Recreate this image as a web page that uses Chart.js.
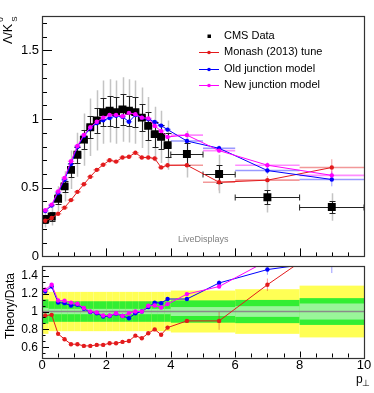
<!DOCTYPE html>
<html>
<head>
<meta charset="utf-8">
<script src="https://cdn.jsdelivr.net/npm/chart.js@4.4.0/dist/chart.umd.min.js"></script>
<style>
    html, body { margin: 0; padding: 0; background: #fff; }
    #wrap { position: relative; width: 374px; height: 393px; }
    canvas { position: absolute; left: 0; }
    #main { top: 0; }
    #ratio { top: 262px; }
</style>
</head>
<body>
<div id="wrap">
    <canvas id="main" width="374" height="262"></canvas>
    <canvas id="ratio" width="374" height="131"></canvas>
</div>
<script>
// pT bins (GeV)
const ptCenters = [0.1, 0.3, 0.5, 0.7, 0.9, 1.1, 1.3, 1.5, 1.7, 1.9, 2.1, 2.3, 2.5, 2.7, 2.9, 3.1, 3.3, 3.5, 3.7, 3.9, 4.5, 5.5, 7, 9];
const binEdges = [0, 0.2, 0.4, 0.6, 0.8, 1.0, 1.2, 1.4, 1.6, 1.8, 2.0, 2.2, 2.4, 2.6, 2.8, 3.0, 3.2, 3.4, 3.6, 3.8, 4.0, 5, 6, 8, 10];

// CMS data + errors (black = stat, grey = total)
const cmsData  = [0.27, 0.29, 0.42, 0.51, 0.63, 0.74, 0.85, 0.94, 0.99, 1.05, 1.06, 1.05, 1.07, 1.06, 1.05, 1.01, 0.95, 0.89, 0.87, 0.81, 0.745, 0.60, 0.43, 0.36];
const cmsStat  = [0.03, 0.03, 0.035, 0.04, 0.05, 0.06, 0.07, 0.08, 0.09, 0.10, 0.11, 0.11, 0.11, 0.11, 0.11, 0.10, 0.10, 0.09, 0.09, 0.085, 0.08, 0.065, 0.05, 0.045];
const cmsTotal = [0.06, 0.065, 0.09, 0.11, 0.14, 0.16, 0.19, 0.21, 0.22, 0.23, 0.23, 0.23, 0.235, 0.23, 0.23, 0.22, 0.21, 0.20, 0.19, 0.18, 0.17, 0.14, 0.11, 0.10];

// generator predictions
const monash    = [0.26, 0.28, 0.31, 0.355, 0.41, 0.47, 0.525, 0.58, 0.63, 0.667, 0.70, 0.69, 0.72, 0.725, 0.755, 0.72, 0.72, 0.713, 0.648, 0.663, 0.664, 0.54, 0.555, 0.647];
const monashErr = [0.006, 0.006, 0.007, 0.007, 0.008, 0.008, 0.009, 0.009, 0.01, 0.01, 0.01, 0.011, 0.011, 0.012, 0.012, 0.013, 0.014, 0.015, 0.016, 0.017, 0.012, 0.06, 0.03, 0.06];
const oldJunction = [0.331, 0.371, 0.462, 0.558, 0.672, 0.796, 0.876, 0.933, 0.97, 0.991, 1.007, 1.024, 1.017, 0.98, 1.029, 1.01, 0.998, 0.979, 0.952, 0.923, 0.84, 0.787, 0.625, 0.56];
const oldErr      = [0.006, 0.006, 0.006, 0.007, 0.007, 0.008, 0.008, 0.009, 0.009, 0.01, 0.01, 0.01, 0.011, 0.011, 0.012, 0.012, 0.013, 0.014, 0.015, 0.016, 0.012, 0.02, 0.025, 0.05];
const newJunction = [0.336, 0.377, 0.472, 0.571, 0.693, 0.804, 0.884, 0.94, 0.98, 1.01, 1.03, 1.03, 1.02, 1.045, 1.035, 1.01, 1.005, 0.95, 0.912, 0.87, 0.883, 0.77, 0.664, 0.59];
const newErr      = [0.006, 0.006, 0.006, 0.007, 0.007, 0.008, 0.008, 0.009, 0.009, 0.01, 0.01, 0.01, 0.011, 0.011, 0.012, 0.012, 0.013, 0.014, 0.015, 0.016, 0.012, 0.015, 0.02, 0.035];

// theory / data
const ratioMonash = [0.955, 0.963, 0.75, 0.69, 0.634, 0.634, 0.615, 0.615, 0.626, 0.626, 0.645, 0.645, 0.66, 0.67, 0.73, 0.70, 0.757, 0.80, 0.74, 0.82, 0.895, 0.895, 1.30, 1.80];
const ratioOld    = [1.225, 1.28, 1.10, 1.094, 1.067, 1.075, 1.03, 0.993, 0.98, 0.944, 0.95, 0.975, 0.95, 0.925, 0.98, 1.0, 1.05, 1.10, 1.094, 1.14, 1.14, 1.32, 1.47, 1.57];
const ratioNew    = [1.244, 1.30, 1.124, 1.12, 1.10, 1.087, 1.04, 1.0, 0.99, 0.955, 0.955, 0.98, 0.95, 0.98, 1.0, 1.0, 1.064, 1.067, 1.045, 1.083, 1.195, 1.28, 1.57, 1.64];

// relative uncertainty bands in the ratio panel
const bandTotal = [0.25, 0.22, 0.22, 0.22, 0.22, 0.22, 0.22, 0.22, 0.22, 0.22, 0.22, 0.22, 0.22, 0.22, 0.22, 0.22, 0.22, 0.22, 0.22, 0.22, 0.235, 0.235, 0.25, 0.29];
const bandStat  = [0.135, 0.115, 0.115, 0.115, 0.115, 0.115, 0.115, 0.115, 0.115, 0.115, 0.115, 0.115, 0.115, 0.115, 0.115, 0.115, 0.115, 0.115, 0.115, 0.115, 0.125, 0.125, 0.13, 0.15];
const bandInner = [0.04, 0.03, 0.03, 0.03, 0.03, 0.03, 0.03, 0.03, 0.03, 0.03, 0.03, 0.03, 0.03, 0.03, 0.03, 0.03, 0.03, 0.03, 0.03, 0.03, 0.05, 0.05, 0.06, 0.09];

// tick labels
const mainYTicks = [0, 0.5, 1, 1.5];
const ratioYTicks = [0.6, 0.8, 1, 1.2, 1.4];
const xTicks = [0, 2, 4, 6, 8, 10];

const FONT = '"Liberation Sans", Arial, Helvetica, sans-serif';
const RED = '#e31a1c', BLUE = '#0000ff', MAGENTA = '#ff00ff';
const LIGHT = { [RED]: 'rgba(227,26,28,0.45)', [BLUE]: 'rgba(0,0,255,0.4)', [MAGENTA]: 'rgba(255,0,255,0.45)' };

const pts = (ys) => ptCenters.map((x, i) => ({ x: x, y: ys[i] }));
const px = (s, v) => s.getPixelForValue(v);

function line(ctx, x1, y1, x2, y2) {
    ctx.beginPath();
    ctx.moveTo(x1, y1);
    ctx.lineTo(x2, y2);
    ctx.stroke();
}

function noLabelPadding(s) {
    s.paddingTop = 0;
    s.paddingBottom = 0;
    s.paddingLeft = 0;
    s.paddingRight = 0;
}

function drawFrameAndTicks(chart, cfg) {
    const { ctx, chartArea: a, scales } = chart;
    const xs = scales.x, ys = scales.y;
    ctx.save();
    ctx.strokeStyle = '#000';
    ctx.lineWidth = 1;
    // y ticks on the left, pointing inwards
    for (let k = 0; k < 200; k++) {
        const v = cfg.yFrom + k * cfg.yStep;
        if (v > ys.max + 1e-9) break;
        const y = Math.round(px(ys, v)) + 0.5;
        if (y < a.top || y > a.bottom) continue;
        const major = cfg.yMajor.some((m) => Math.abs(m - v) < 1e-6);
        line(ctx, a.left, y, a.left + (major ? cfg.yMajLen : cfg.yMinLen), y);
    }
    // x ticks at the bottom, pointing up
    for (let k = 0; k <= 20; k++) {
        const v = k * 0.5;
        const x = Math.round(px(xs, v)) + 0.5;
        const major = xTicks.indexOf(v) >= 0;
        line(ctx, x, a.bottom, x, a.bottom - (major ? cfg.xMajLen : cfg.xMinLen));
    }
    ctx.strokeStyle = '#333';
    ctx.lineWidth = 1.2;
    ctx.strokeRect(Math.round(a.left) + 0.5, Math.round(a.top) + 0.5, Math.round(a.right - a.left), Math.round(a.bottom - a.top));
    ctx.restore();
}

function drawModelErrors(chart, sets, horizontal) {
    const { ctx, scales } = chart;
    sets.forEach((s) => {
        ctx.strokeStyle = LIGHT[s.color];
        for (let i = 0; i < ptCenters.length; i++) {
            const x = px(scales.x, ptCenters[i]);
            const y = px(scales.y, s.vals[i]);
            ctx.lineWidth = 1;
            line(ctx, x, px(scales.y, s.vals[i] + s.errs[i]), x, px(scales.y, s.vals[i] - s.errs[i]));
            if (horizontal) {
                ctx.lineWidth = 1.6;
                line(ctx, px(scales.x, binEdges[i]), y, px(scales.x, binEdges[i + 1]), y);
            }
        }
    });
}

const mainDecor = {
    id: 'mainDecor',
    beforeDatasetsDraw(chart) {
        const { ctx, chartArea: a, scales } = chart;
        ctx.save();
        ctx.beginPath();
        ctx.rect(a.left, a.top, a.right - a.left, a.bottom - a.top);
        ctx.clip();
        drawModelErrors(chart, [
            { vals: monash, errs: monashErr, color: RED },
            { vals: oldJunction, errs: oldErr, color: BLUE },
            { vals: newJunction, errs: newErr, color: MAGENTA }
        ], true);
        // grey total errors
        ctx.strokeStyle = '#c4c4c4';
        ctx.lineWidth = 1.5;
        for (let i = 0; i < ptCenters.length; i++) {
            const x = Math.round(px(scales.x, ptCenters[i])) + 0.5;
            line(ctx, x, px(scales.y, cmsData[i] + cmsTotal[i]), x, px(scales.y, cmsData[i] - cmsTotal[i]));
        }
        // black stat errors with caps
        ctx.strokeStyle = '#222';
        ctx.lineWidth = 1;
        for (let i = 0; i < ptCenters.length; i++) {
            const x = Math.round(px(scales.x, ptCenters[i])) + 0.5;
            const yt = Math.round(px(scales.y, cmsData[i] + cmsStat[i])) + 0.5;
            const yb = Math.round(px(scales.y, cmsData[i] - cmsStat[i])) + 0.5;
            const y = Math.round(px(scales.y, cmsData[i])) + 0.5;
            line(ctx, x, yt, x, yb);
            line(ctx, x - 3, yt, x + 3, yt);
            line(ctx, x - 3, yb, x + 3, yb);
            const xl = px(scales.x, binEdges[i]), xr = px(scales.x, binEdges[i + 1]);
            line(ctx, xl, y, xr, y);
            line(ctx, xl, y - 3, xl, y + 3);
            line(ctx, xr, y - 3, xr, y + 3);
        }
        ctx.restore();
    },
    afterDraw(chart) {
        const { ctx } = chart;
        drawFrameAndTicks(chart, { yFrom: 0, yStep: 0.1, yMajor: mainYTicks, yMajLen: 10, yMinLen: 5, xMajLen: 8, xMinLen: 4 });
        ctx.save();
        // legend
        const items = [
            { text: 'CMS Data', color: '#000', kind: 'square' },
            { text: 'Monash (2013) tune', color: RED },
            { text: 'Old junction model', color: BLUE },
            { text: 'New junction model', color: MAGENTA }
        ];
        ctx.font = '11px ' + FONT;
        ctx.textBaseline = 'middle';
        items.forEach((it, i) => {
            const y = 36 + i * 16.4;
            if (it.kind === 'square') {
                ctx.fillStyle = '#000';
                ctx.fillRect(207.5, y - 1.5, 3.5, 3.5);
            } else {
                ctx.strokeStyle = it.color;
                ctx.lineWidth = 1;
                line(ctx, 199, Math.round(y) + 0.5, 219, Math.round(y) + 0.5);
                ctx.fillStyle = it.color;
                ctx.beginPath();
                ctx.arc(209, Math.round(y) + 0.5, 1.8, 0, Math.PI * 2);
                ctx.fill();
            }
            ctx.fillStyle = '#000';
            ctx.fillText(it.text, 224, y);
        });
        // watermark
        ctx.fillStyle = '#808080';
        ctx.font = '9px ' + FONT;
        ctx.fillText('LiveDisplays', 178, 240);
        // y title
        ctx.translate(12, 44);
        ctx.rotate(-Math.PI / 2);
        ctx.fillStyle = '#000';
        ctx.textBaseline = 'alphabetic';
        ctx.font = '12.5px ' + FONT;
        ctx.fillText('Λ/K', 0, 0);
        const w = ctx.measureText('Λ/K').width;
        ctx.font = '8px ' + FONT;
        ctx.fillText('0', w + 2, -9.5);
        ctx.fillText('S', w + 2, 4.5);
        ctx.restore();
    }
};

const ratioDecor = {
    id: 'ratioDecor',
    beforeDatasetsDraw(chart) {
        const { ctx, chartArea: a, scales } = chart;
        ctx.save();
        ctx.beginPath();
        ctx.rect(a.left, a.top, a.right - a.left, a.bottom - a.top);
        ctx.clip();
        const bands = [[bandTotal, '#ffff55'], [bandStat, '#33ee33'], [bandInner, '#99f599']];
        bands.forEach(([b, col]) => {
            ctx.fillStyle = col;
            for (let i = 0; i < b.length; i++) {
                const x1 = px(scales.x, binEdges[i]), x2 = px(scales.x, binEdges[i + 1]);
                const y1 = px(scales.y, 1 + b[i]), y2 = px(scales.y, 1 - b[i]);
                ctx.fillRect(x1, y1, x2 - x1, y2 - y1);
            }
        });
        ctx.strokeStyle = '#8a8a8a';
        ctx.lineWidth = 1.6;
        const y1 = px(scales.y, 1);
        line(ctx, a.left, y1, a.right, y1);
        drawModelErrors(chart, [
            { vals: ratioMonash, errs: monashErr.map((e, i) => e / cmsData[i]), color: RED },
            { vals: ratioOld, errs: oldErr.map((e, i) => e / cmsData[i]), color: BLUE },
            { vals: ratioNew, errs: newErr.map((e, i) => e / cmsData[i]), color: MAGENTA }
        ], false);
        ctx.restore();
    },
    afterDraw(chart) {
        const { ctx } = chart;
        drawFrameAndTicks(chart, { yFrom: 0.2, yStep: 0.2 / 3, yMajor: ratioYTicks, yMajLen: 7, yMinLen: 3.5, xMajLen: 6, xMinLen: 4 });
        ctx.save();
        ctx.fillStyle = '#000';
        ctx.textBaseline = 'alphabetic';
        // x title
        ctx.font = '12px ' + FONT;
        ctx.fillText('p', 356, 121);
        ctx.font = '9px ' + FONT;
        ctx.fillText('⊥', 362, 124);
        // y title
        ctx.translate(14, 44);
        ctx.rotate(-Math.PI / 2);
        ctx.font = '12px ' + FONT;
        ctx.textAlign = 'center';
        ctx.fillText('Theory/Data', 0, 0);
        ctx.restore();
    }
};

function modelSet(label, vals, color) {
    return {
        label: label,
        data: pts(vals),
        borderColor: color,
        borderWidth: 1,
        pointRadius: 2.2,
        pointBackgroundColor: color,
        pointBorderWidth: 0,
        tension: 0
    };
}

function yScale(min, max, ticks, size, pad) {
    return {
        min: min,
        max: max,
        grid: { display: false, drawTicks: false },
        border: { display: false },
        ticks: { font: { family: FONT, size: size }, color: '#000', padding: pad, callback: (v) => String(v) },
        afterBuildTicks: (s) => { s.ticks = ticks.map((v) => ({ value: v })); },
        afterFit: (s) => { s.width = 42; noLabelPadding(s); }
    };
}

const common = {
    responsive: false,
    animation: false,
    devicePixelRatio: 1,
    plugins: { legend: { display: false }, tooltip: { enabled: false } }
};

new Chart(document.getElementById('main'), {
    type: 'line',
    data: {
        datasets: [
            modelSet('New junction model', newJunction, MAGENTA),
            modelSet('Old junction model', oldJunction, BLUE),
            modelSet('Monash (2013) tune', monash, RED),
            {
                label: 'CMS Data',
                data: pts(cmsData),
                showLine: false,
                pointStyle: 'rect',
                pointRadius: 5.6,
                pointBackgroundColor: '#000',
                pointBorderWidth: 0
            }
        ]
    },
    options: Object.assign({}, common, {
        layout: { padding: { left: 0, right: 10, top: 16, bottom: 3 } },
        scales: {
            x: { type: 'linear', min: 0, max: 10, display: false },
            y: yScale(0, 1.75, mainYTicks, 13, 3)
        }
    }),
    plugins: [mainDecor]
});

new Chart(document.getElementById('ratio'), {
    type: 'line',
    data: {
        datasets: [
            modelSet('New junction model', ratioNew, MAGENTA),
            modelSet('Old junction model', ratioOld, BLUE),
            modelSet('Monash (2013) tune', ratioMonash, RED)
        ]
    },
    options: Object.assign({}, common, {
        layout: { padding: { left: 0, right: 10, top: 4, bottom: 13.5 } },
        scales: {
            x: {
                type: 'linear',
                min: 0,
                max: 10,
                grid: { display: false, drawTicks: false },
                border: { display: false },
                ticks: { font: { family: FONT, size: 13 }, color: '#000', padding: 0, maxRotation: 0, autoSkip: false, callback: (v) => String(v) },
                afterBuildTicks: (s) => { s.ticks = xTicks.map((v) => ({ value: v })); },
                afterFit: (s) => { s.height = 22; noLabelPadding(s); }
            },
            y: yScale(0.485, 1.51, ratioYTicks, 12, 4)
        }
    }),
    plugins: [ratioDecor]
});
</script>
</body>
</html>
